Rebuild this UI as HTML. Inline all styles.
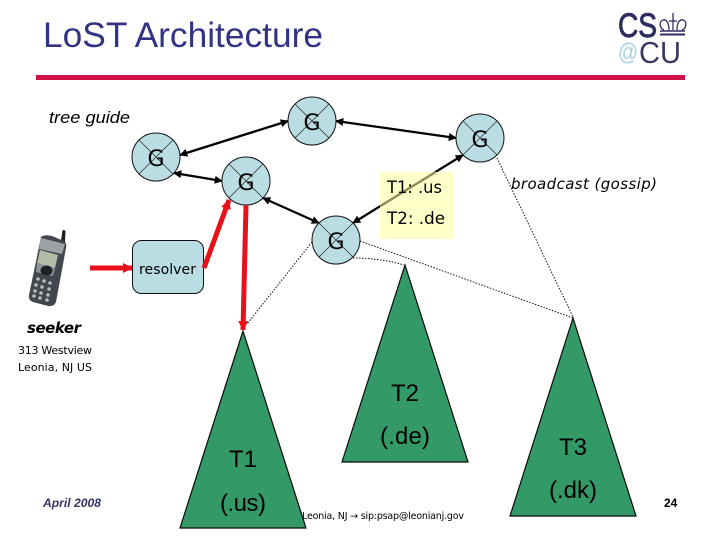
<!DOCTYPE html>
<html><head><meta charset="utf-8"><style>
html,body{margin:0;padding:0;background:#fff}
svg{display:block}
text{font-family:"Liberation Sans",sans-serif;fill:#000}
text.d{font-family:"DejaVu Sans",sans-serif}
</style></head><body>
<svg width="720" height="540" viewBox="0 0 720 540" xmlns="http://www.w3.org/2000/svg">
<defs>
<marker id="k" viewBox="0 0 10 10" refX="9" refY="5" markerWidth="10" markerHeight="8" markerUnits="userSpaceOnUse" orient="auto-start-reverse"><path d="M0 0L10 5L0 10z" fill="#000"/></marker>
<marker id="r" viewBox="0 0 10 10" refX="9" refY="5" markerWidth="10" markerHeight="12" markerUnits="userSpaceOnUse" orient="auto"><path d="M0 0L10 5L0 10z" fill="#e8101a"/></marker>
<g id="g"><circle r="24" fill="#b9dde2" stroke="#111" stroke-width="1"/><path d="M-17 -17L17 17M-17 17L17 -17" stroke="#222" stroke-width=".7"/></g>
</defs>

<text x="43" y="47" font-size="35" style="fill:#333385" textLength="280" lengthAdjust="spacingAndGlyphs">LoST Architecture</text>
<rect x="36" y="75" width="649" height="5" fill="#d20f45"/>

<!-- logo -->
<text x="618" y="37" font-size="34" style="fill:#2d2d62;stroke:#2d2d62;stroke-width:.9" textLength="39" lengthAdjust="spacingAndGlyphs">CS</text>
<g fill="none" stroke="#2d2d62" stroke-width="1.3"><path d="M664 30c-5-2-5-9-1-10c3-1 6 2 6 10M682 30c5-2 5-9 1-10c-3-1-6 2-6 10M673 13V30M669 21H677"/><path d="M660 31H685" stroke-width="1.5"/><path d="M660 34.500H685" stroke-width="2"/></g>
<text x="618" y="60" font-size="24" style="fill:#a9cfe3" textLength="20" lengthAdjust="spacingAndGlyphs">@</text>
<text x="639" y="63" font-size="31" style="fill:#3a3a60" textLength="42" lengthAdjust="spacingAndGlyphs">CU</text>

<text x="49" y="123" font-size="16.500" font-style="italic" textLength="81" lengthAdjust="spacingAndGlyphs">tree guide</text>

<!-- dotted -->
<g fill="none" stroke="#111" stroke-width="1" stroke-dasharray="1.5 1.5">
<path d="M312 242L247 324"/>
<path d="M353 258Q380 258 404 265"/>
<path d="M360 241L573 318"/>
<path d="M497 158L573 317"/>
</g>

<!-- triangles -->
<g fill="#339966" stroke="#0a0a0a" stroke-width="1.2">
<path d="M243 331L306 528H180z"/>
<path d="M405 265L468 462H342z"/>
<path d="M573 318L636 516H510z"/>
</g>

<!-- black arrows -->
<g stroke="#000" stroke-width="2.300" fill="none">
<path d="M180 155L288 121" marker-start="url(#k)" marker-end="url(#k)"/>
<path d="M336 121L456 138" marker-start="url(#k)" marker-end="url(#k)"/>
<path d="M174 173L222 181" marker-start="url(#k)" marker-end="url(#k)"/>
<path d="M263 198L319 223" marker-start="url(#k)" marker-end="url(#k)"/>
<path d="M353 223L463 155" marker-start="url(#k)" marker-end="url(#k)"/>
</g>

<!-- yellow overlay -->
<rect x="380" y="172" width="73" height="67" fill="#ffffc8"/>
<path d="M380 206.300L435.600 172" stroke="#8f8a5a" stroke-width="2.400" fill="none"/>

<!-- circles -->
<use href="#g" x="312" y="121"/><use href="#g" x="156" y="157"/><use href="#g" x="246" y="181"/><use href="#g" x="480" y="138"/><use href="#g" x="336" y="240"/>
<text class="d" x="312" y="130" text-anchor="middle" font-size="22">G</text>
<text class="d" x="156" y="166" text-anchor="middle" font-size="22">G</text>
<text class="d" x="246" y="190" text-anchor="middle" font-size="22">G</text>
<text class="d" x="480" y="147" text-anchor="middle" font-size="22">G</text>
<text class="d" x="336" y="249" text-anchor="middle" font-size="22">G</text>

<text class="d" x="387" y="193" font-size="17" textLength="55" lengthAdjust="spacingAndGlyphs">T1: .us</text>
<text class="d" x="387" y="224" font-size="17" textLength="58" lengthAdjust="spacingAndGlyphs">T2: .de</text>
<text class="d" x="511" y="189" font-size="15" font-style="italic" textLength="146" lengthAdjust="spacing">broadcast (gossip)</text>

<!-- resolver -->
<rect x="132.500" y="240.500" width="71" height="53" rx="9" fill="#b9dde2" stroke="#111" stroke-width="1"/>
<text x="139" y="274" font-size="14" class="d" textLength="57" lengthAdjust="spacing">resolver</text>

<!-- red arrows -->
<path d="M90 268H132" stroke="#e8101a" stroke-width="5" fill="none" marker-end="url(#r)"/>
<path d="M204 268L229 200" stroke="#e8101a" stroke-width="5" fill="none" marker-end="url(#r)"/>
<path d="M246 205L243 330" stroke="#e8101a" stroke-width="5" fill="none" marker-end="url(#r)"/>

<!-- phone -->
<g>
<path d="M61 241L62.500 230L65.500 230.500L65 243z" fill="#1e1e1e"/>
<path d="M41 237Q44 234 52 236L64 241Q67 243 66 248L56 302Q54 307 48 306L33 302Q28 300 29 295z" fill="#43474d"/>
<path d="M41 238L65 244L62 254L39 249z" fill="#9ea2a5"/>
<path d="M40 250L58 255L55 268L37 263z" fill="#b4baa8"/>
<path d="M37 263L55 268L53 276L36 272z" fill="#8d9296"/>
<ellipse cx="46.500" cy="270.500" rx="6" ry="5" fill="#1d2025"/>
<g fill="#b8bcc0"><circle cx="38" cy="279" r="1.800"/><circle cx="44" cy="281" r="1.800"/><circle cx="50" cy="283" r="1.800"/><circle cx="36" cy="285" r="1.800"/><circle cx="42" cy="287" r="1.800"/><circle cx="49" cy="289" r="1.800"/><circle cx="35" cy="291" r="1.800"/><circle cx="41" cy="293" r="1.800"/><circle cx="48" cy="295" r="1.800"/><circle cx="34" cy="296" r="1.800"/><circle cx="40" cy="298" r="1.800"/><circle cx="47" cy="300" r="1.800"/></g>
</g>

<text class="d" x="27" y="333" font-size="15" font-weight="bold" font-style="italic" textLength="54" lengthAdjust="spacing">seeker</text>
<text class="d" x="18" y="354" font-size="11" textLength="74" lengthAdjust="spacing">313 Westview</text>
<text class="d" x="18" y="371" font-size="11" textLength="74" lengthAdjust="spacing">Leonia, NJ US</text>

<!-- tree labels -->
<g font-size="24" text-anchor="middle">
<text x="243" y="467">T1</text>
<text x="243" y="511" textLength="46" lengthAdjust="spacing">(.us)</text>
<text x="405" y="401">T2</text>
<text x="405" y="444" textLength="50" lengthAdjust="spacing">(.de)</text>
<text x="573" y="455">T3</text>
<text x="573" y="498" textLength="48" lengthAdjust="spacing">(.dk)</text>
</g>

<text class="d" x="302" y="519" font-size="9.500" textLength="162" lengthAdjust="spacing">Leonia, NJ → sip:psap@leonianj.gov</text>
<text x="43" y="507" font-size="12" font-weight="bold" font-style="italic" style="fill:#333366" textLength="58" lengthAdjust="spacingAndGlyphs">April 2008</text>
<text x="664" y="507" font-size="12" font-weight="bold">24</text>
</svg>
</body></html>
